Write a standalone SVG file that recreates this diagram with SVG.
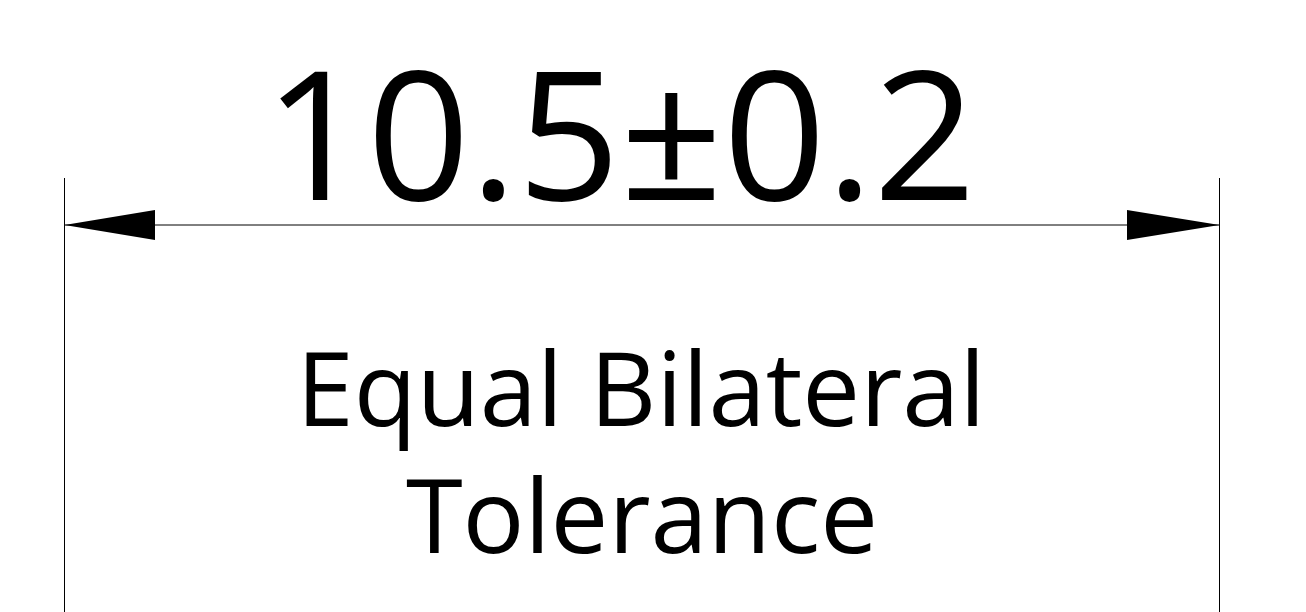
<svg xmlns="http://www.w3.org/2000/svg" width="1306" height="612" viewBox="0 0 1306 612">
<style>
.ln{stroke:#000;stroke-width:1;fill:none}
.ah{fill:#000}
.t{font-family:"Open Sans","Noto Sans","DejaVu Sans",sans-serif;fill:#000}
</style>
<rect width="1306" height="612" fill="#fff"/>
<g id="connectors">
<line class="ln" x1="64.5" y1="178" x2="64.5" y2="612"/>
<line class="ln" x1="1219.5" y1="178" x2="1219.5" y2="612"/>
<line class="ln" x1="64.5" y1="225" x2="1219.5" y2="225"/>
<polygon class="ah" points="64.5,225 155,210 155,240"/>
<polygon class="ah" points="1219.5,225 1127,210 1127,240"/>
</g>
<g id="dimension">
<text class="t" x="264" y="200" font-size="180">10.5±0.2</text>
</g>
<g id="label">
<text class="t" x="641" y="426" font-size="103" text-anchor="middle">Equal Bilateral</text>
<text class="t" x="642" y="553" font-size="103" text-anchor="middle">Tolerance</text>
</g>
</svg>
